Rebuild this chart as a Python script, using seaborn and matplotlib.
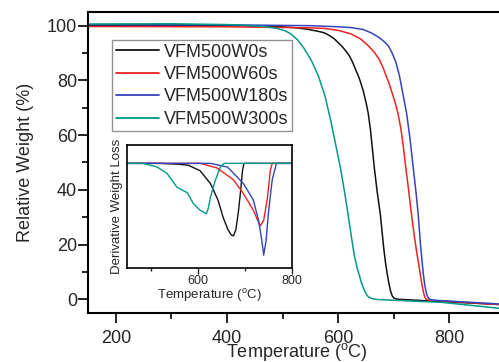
import numpy as np
import pandas as pd
import matplotlib
matplotlib.use("Agg")
import matplotlib.pyplot as plt
import seaborn as sns
from matplotlib.ticker import MultipleLocator

# ---------------- data ----------------
samples = ["VFM500W0s", "VFM500W60s", "VFM500W180s", "VFM500W300s"]
colors = ["#111111", "#ee2222", "#3344bb", "#00998a"]

# main TGA curves: temperature (°C) and relative weight (%)
t_0s = [150, 300, 400, 450, 480, 505, 520, 533, 545, 555, 565, 575, 585, 593, 600, 607, 614, 620, 626,
        632, 636, 640, 645, 650, 654, 658, 661, 665, 670, 676, 679, 682, 685, 688, 691, 694, 697, 700,
        704, 710, 764, 890]
w_0s = [100.1, 100.05, 100.0, 99.9, 99.7, 99.5, 99.3, 99.0, 98.7, 98.3, 97.9, 97.4, 96.3, 95.2, 93.8,
        92.4, 90.7, 89.0, 86.6, 83.6, 81.8, 79.5, 76.2, 72.0, 68.0, 62.0, 56.0, 48.0, 39.5, 30.7, 24.5,
        18.5, 13.5, 9.5, 6.0, 3.2, 1.3, 0.5, 0.15, 0.0, -0.6, -1.9]

t_60s = [150, 400, 520, 550, 575, 600, 623, 640, 654, 665, 674, 681, 686, 692, 698, 703, 708, 713, 717,
         721, 726, 732, 737, 741, 744, 747, 750, 752, 754, 756, 758, 762, 890]
w_60s = [99.7, 99.6, 99.3, 99.2, 99.0, 98.3, 97.0, 95.2, 92.7, 90.3, 87.6, 84.5, 81.8, 78.6, 74.8, 71.5,
         67.5, 62.0, 56.0, 49.0, 41.0, 30.7, 23.0, 17.5, 13.8, 10.0, 6.2, 4.0, 2.0, 0.7, 0.1, -0.3, -1.9]

t_180s = [150, 400, 550, 600, 623, 645, 659, 672, 682, 690, 697, 704, 710, 716, 723, 729, 735, 740, 744,
          748, 751, 753, 755, 757, 759, 761, 763, 766, 770, 890]
w_180s = [100.4, 100.3, 100.0, 99.6, 99.3, 98.6, 97.4, 95.9, 94.3, 92.7, 90.0, 86.5, 81.8, 75.5, 68.0,
          59.0, 48.0, 39.0, 30.7, 20.0, 13.5, 9.5, 6.2, 3.8, 2.0, 0.9, 0.3, -0.1, -0.3, -1.7]

t_300s = [150, 300, 400, 430, 450, 470, 490, 505, 515, 527, 539, 552, 564, 576, 587, 596, 605, 612, 618,
          624, 629, 634, 638, 642, 647, 650, 653, 656, 659, 665, 672, 786, 890]
w_300s = [100.6, 100.7, 100.4, 100.2, 99.9, 99.6, 99.0, 98.1, 97.0, 94.8, 91.6, 87.2, 81.8, 74.5, 65.0,
          56.0, 47.0, 38.5, 30.7, 22.5, 16.0, 11.5, 8.8, 5.9, 3.3, 2.1, 1.2, 0.7, 0.4, 0.1, -0.1, -1.1, -3.3]

# inset derivative curves (arbitrary units)
dt_0s = [450, 520, 560, 580, 605, 627, 643, 654, 664, 671, 676, 681, 686, 691, 695, 698, 800]
dd_0s = [0, 0, -0.01, -0.02, -0.08, -0.22, -0.40, -0.59, -0.72, -0.78, -0.79, -0.72, -0.54, -0.30, -0.08, 0, 0]

dt_60s = [450, 605, 641, 676, 697, 718, 727, 733, 740, 748, 754, 758, 800]
dd_60s = [0, 0, -0.05, -0.18, -0.33, -0.51, -0.62, -0.68, -0.62, -0.37, -0.08, 0, 0]

dt_180s = [450, 627, 663, 697, 718, 729, 736, 740, 745, 750, 758, 767, 800]
dd_180s = [0, 0, -0.04, -0.22, -0.40, -0.62, -0.84, -1.00, -0.84, -0.54, -0.18, 0, 0]

dt_300s = [450, 484, 514, 535, 556, 567, 578, 591, 605, 612, 618, 622, 627, 637, 648, 656, 800]
dd_300s = [0, 0, -0.04, -0.11, -0.26, -0.29, -0.32, -0.44, -0.51, -0.53, -0.55, -0.50, -0.37, -0.19, -0.04, 0, 0]

main_x = [t_0s, t_60s, t_180s, t_300s]
main_y = [w_0s, w_60s, w_180s, w_300s]
der_x = [dt_0s, dt_60s, dt_180s, dt_300s]
der_y = [dd_0s, dd_60s, dd_180s, dd_300s]

# ---------------- style ----------------
sns.set_style("ticks")
plt.rcParams["font.family"] = ["Liberation Sans", "DejaVu Sans"]
plt.rcParams["mathtext.fontset"] = "custom"
plt.rcParams["mathtext.rm"] = "Liberation Sans"
plt.rcParams["mathtext.it"] = "Liberation Sans:italic"

fig = plt.figure(figsize=(4.99, 3.62), dpi=100)
W, H = 499.0, 362.0
ax = fig.add_axes([88 / W, 1 - 313 / H, (505 - 88) / W, (313 - 12) / H])

for s, xs, ys, c in zip(samples, main_x, main_y, colors):
    df = pd.DataFrame({"T": xs, "W": ys})
    sns.lineplot(data=df, x="T", y="W", ax=ax, color=c, lw=1.1, sort=False,
                 estimator=None, label=s)

ax.set_xlim(150, 900)
ax.set_ylim(-5, 105)
ax.xaxis.set_major_locator(MultipleLocator(200))
ax.xaxis.set_minor_locator(MultipleLocator(100))
ax.yaxis.set_major_locator(MultipleLocator(20))
ax.yaxis.set_minor_locator(MultipleLocator(10))
ax.tick_params(which="major", direction="out", length=7, width=1.2, labelsize=13, color="black")
ax.tick_params(which="minor", direction="out", length=4, width=1.2, color="black")
ax.tick_params(axis="x", which="major", pad=5)
ax.tick_params(axis="y", which="major", pad=1)
for sp in ax.spines.values():
    sp.set_visible(True)
    sp.set_linewidth(1.5)
    sp.set_color("black")
ax.set_xlabel(r"Temperature ($^{\mathrm{o}}$C)", fontsize=13, labelpad=-4)
ax.set_ylabel("Relative Weight (%)", fontsize=13, labelpad=9)

leg = ax.legend(loc="upper left", bbox_to_anchor=((112 - 88) / 417.0, (313 - 40) / 301.0),
                fontsize=13, frameon=True, fancybox=False, handlelength=2.4,
                handletextpad=0.3, labelspacing=0.3, borderpad=0.2, borderaxespad=0)
leg.get_frame().set_edgecolor("#777777")
leg.get_frame().set_linewidth(1.0)
for h in leg.get_lines():
    h.set_linewidth(1.3)

# ---------------- inset ----------------
axi = fig.add_axes([127 / W, 1 - 268 / H, (292 - 127) / W, (268 - 145) / H])
for s, xs, ys, c in zip(samples, der_x, der_y, colors):
    df = pd.DataFrame({"T": xs, "D": ys})
    sns.lineplot(data=df, x="T", y="D", ax=axi, color=c, lw=1.0, sort=False,
                 estimator=None, legend=False)
axi.set_xlim(450, 800)
axi.set_ylim(-1.14, 0.2)
axi.xaxis.set_major_locator(MultipleLocator(200))
axi.xaxis.set_minor_locator(MultipleLocator(100))
axi.set_yticks([])
axi.tick_params(which="major", direction="out", length=4, width=1.0, labelsize=9, pad=1)
axi.tick_params(which="minor", direction="out", length=2.5, width=1.0)
for sp in axi.spines.values():
    sp.set_visible(True)
    sp.set_linewidth(1.2)
    sp.set_color("black")
axi.set_xlabel(r"Temperature ($^{\mathrm{o}}$C)", fontsize=9.5, labelpad=0)
axi.set_ylabel("Derivative Weight Loss", fontsize=9.5, labelpad=3)

fig.savefig("out.png", dpi=100)
